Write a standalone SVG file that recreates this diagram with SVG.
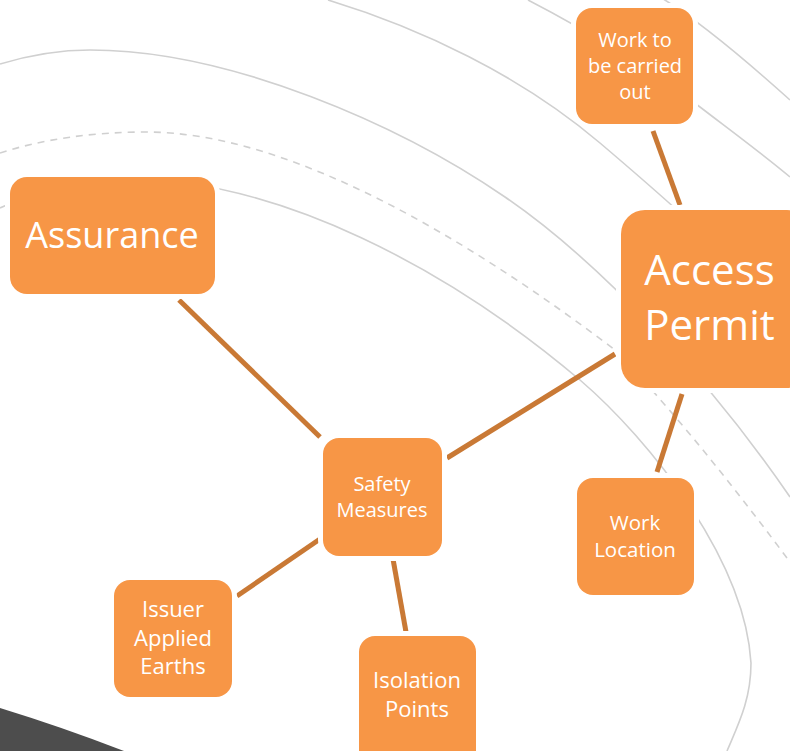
<svg xmlns="http://www.w3.org/2000/svg" width="790" height="751" viewBox="0 0 790 751">
<style>
.bg{fill:none;stroke:#d0d0d0;stroke-width:1.6}
.dash{stroke-dasharray:7 6}
.conn{stroke:#c97935;stroke-width:5;fill:none}
.box{fill:#f79646;stroke:#ffffff;stroke-width:10;paint-order:stroke}
.t{fill:#ffffff;font-family:"Open Sans","Noto Sans",sans-serif;text-anchor:middle}
</style>
<rect width="790" height="751" fill="#ffffff"/>
<g id="background">
<path class="bg" d="M0,64 C30,55 60,50 90,50 C230,50 400,125 505,197 C600,262 710,380 790,497"/>
<path class="bg dash" d="M0,153 C40,140 90,132 146,132 C290,132 470,240 615,350 C680,418 740,495 790,562"/>
<path class="bg" d="M328,0 C420,28 520,75 600,143 C640,177 720,245 790,320"/>
<path class="bg" d="M0,208 C35,192 75,178 120,178 C280,178 450,270 580,380 C650,440 745,560 751,663 C751,700 738,725 727,751"/>
<path class="bg" d="M528,0 C590,32 650,70 700,107 C730,130 760,152 790,177"/>
<path class="bg" d="M660,-3 C690,15 740,55 790,100"/>
<path d="M0,708 Q62,727 124,751 L0,751 Z" fill="#4d4d4d"/>
</g>
<g id="connectors">
<line class="conn" x1="653" y1="131" x2="680" y2="205"/>
<line class="conn" x1="615" y1="354" x2="447" y2="458"/>
<line class="conn" x1="179" y1="300" x2="320" y2="437"/>
<line class="conn" x1="682" y1="394" x2="657" y2="472"/>
<line class="conn" x1="320" y1="539" x2="237" y2="596"/>
<line class="conn" x1="393" y1="559" x2="406" y2="632"/>
</g>
<g id="work-to-be-carried-out">
<rect class="box" x="576" y="8" width="117" height="116" rx="16"/>
<text class="t" font-size="20" x="635" y="47">Work to</text>
<text class="t" font-size="20" x="635" y="73">be carried</text>
<text class="t" font-size="20" x="635" y="99">out</text>
</g>
<g id="access-permit">
<rect class="box" x="621" y="210" width="190" height="178" rx="24"/>
<text class="t" font-size="42" x="709.5" y="285">Access</text>
<text class="t" font-size="42" x="709.5" y="340">Permit</text>
</g>
<g id="assurance">
<rect class="box" x="10" y="177" width="205" height="117" rx="17"/>
<text class="t" font-size="36" x="112" y="248">Assurance</text>
</g>
<g id="safety-measures">
<rect class="box" x="323" y="438" width="119" height="118" rx="16"/>
<text class="t" font-size="20" x="382" y="491">Safety</text>
<text class="t" font-size="20" x="382" y="517">Measures</text>
</g>
<g id="work-location">
<rect class="box" x="577" y="478" width="117" height="117" rx="16"/>
<text class="t" font-size="20.5" x="635" y="530">Work</text>
<text class="t" font-size="20.5" x="635" y="557">Location</text>
</g>
<g id="issuer-applied-earths">
<rect class="box" x="114" y="580" width="118" height="117" rx="16"/>
<text class="t" font-size="22" x="173" y="617">Issuer</text>
<text class="t" font-size="22" x="173" y="645.6">Applied</text>
<text class="t" font-size="22" x="173" y="674.2">Earths</text>
</g>
<g id="isolation-points">
<rect class="box" x="359" y="636" width="117" height="130" rx="16"/>
<text class="t" font-size="22" x="417" y="688">Isolation</text>
<text class="t" font-size="22" x="417" y="716.6">Points</text>
</g>
</svg>
